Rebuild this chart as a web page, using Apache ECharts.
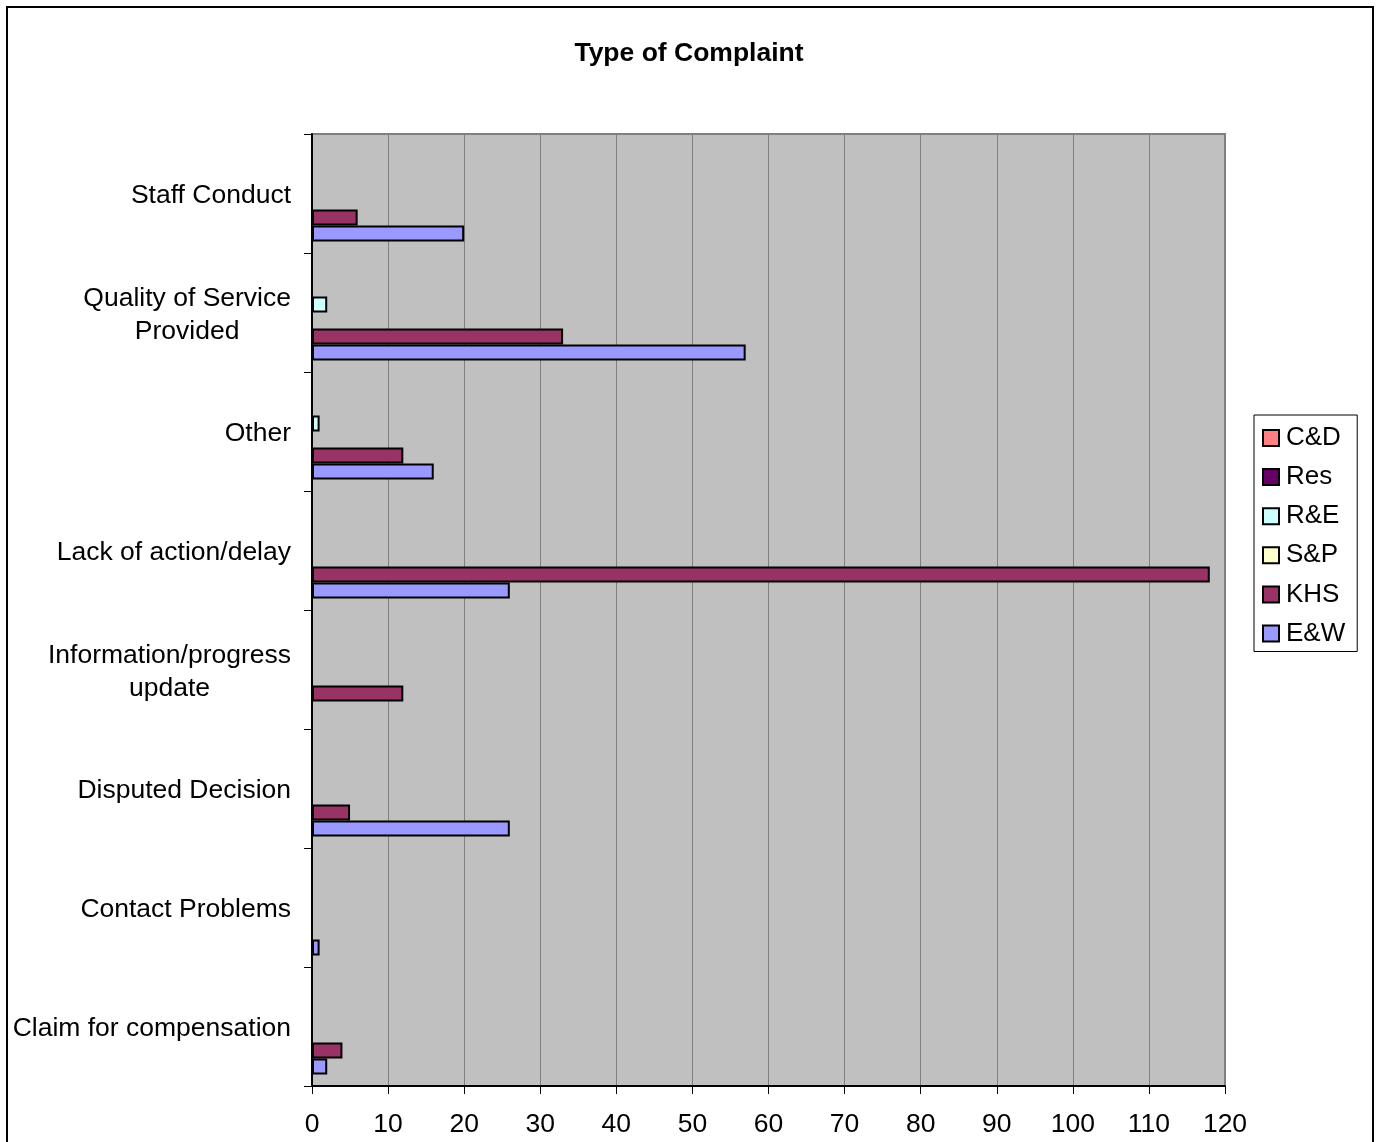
<!DOCTYPE html>
<html>
<head>
<meta charset="utf-8">
<title>Type of Complaint</title>
<script src="https://cdn.jsdelivr.net/npm/echarts@6/dist/echarts.min.js"></script>
<style>
  html, body { margin: 0; padding: 0; background: #fff; }
  #chart { width: 1378px; height: 1142px; }
</style>
</head>
<body>
<div id="chart"></div>
<script>
// Complaint categories, listed top to bottom
const categories = [
  'Staff Conduct',
  'Quality of Service\nProvided',
  'Other',
  'Lack of action/delay',
  'Information/progress\nupdate',
  'Disputed Decision',
  'Contact Problems',
  'Claim for compensation'
];

// Complaint counts per directorate (null = none recorded)
const cdValues  = [null, null, null, null, null, null, null, null];
const resValues = [null, null, null, null, null, null, null, null];
const reValues  = [null, 2, 1, null, null, null, null, null];
const spValues  = [null, null, null, null, null, null, null, null];
const khsValues = [6, 33, 12, 118, 12, 5, null, 4];
const ewValues  = [20, 57, 16, 26, null, 26, 1, 2];

const seriesNames = ['C&D', 'Res', 'R&E', 'S&P', 'KHS', 'E&W'];
const seriesValues = [cdValues, resValues, reValues, spValues, khsValues, ewValues];
const seriesColors = ['#FF8080', '#660066', '#CCFFFF', '#FFFFCC', '#993366', '#9999FF'];

const FONT = 'Arial, "Liberation Sans", sans-serif';
const LABEL_SIZE = 26.5;

const chart = echarts.init(document.getElementById('chart'), null, { renderer: 'canvas' });

const option = {
  backgroundColor: '#ffffff',
  animation: false,
  title: {
    text: 'Type of Complaint',
    left: 'center',
    top: 35,
    textStyle: { fontFamily: FONT, fontSize: 26.5, fontWeight: 'bold', color: '#000' }
  },
  graphic: [{
    type: 'rect',
    shape: { x: 7, y: 7, width: 1366, height: 1160 },
    style: { fill: 'none', stroke: '#000', lineWidth: 2 },
    silent: true,
    z: -1
  }],
  legend: {
    orient: 'vertical',
    left: 1254,
    top: 415,
    padding: [10, 12, 5, 8],
    itemGap: 13.1,
    itemWidth: 16,
    itemHeight: 16,
    icon: 'rect',
    borderColor: '#000',
    borderWidth: 1,
    backgroundColor: '#fff',
    itemStyle: { borderColor: '#000', borderWidth: 2 },
    textStyle: { fontFamily: FONT, fontSize: 26, color: '#000', padding: [0, 0, 0, 2] },
    data: seriesNames
  },
  grid: {
    left: 312,
    right: 153,
    top: 134,
    bottom: 56,
    show: true,
    backgroundColor: '#C0C0C0',
    borderColor: '#808080',
    borderWidth: 2,
    containLabel: false
  },
  xAxis: {
    type: 'value',
    min: 0,
    max: 120,
    interval: 10,
    axisLine: { show: true, lineStyle: { color: '#000', width: 2 } },
    axisTick: { show: true, length: 8, lineStyle: { color: '#000', width: 1 } },
    axisLabel: { margin: 25, fontFamily: FONT, fontSize: LABEL_SIZE, color: '#000' },
    splitLine: { show: true, lineStyle: { color: '#808080', width: 1 } }
  },
  yAxis: {
    type: 'category',
    inverse: true,
    data: categories,
    axisLine: { show: true, lineStyle: { color: '#000', width: 2 } },
    axisTick: { show: true, length: 8, lineStyle: { color: '#000', width: 1 } },
    axisLabel: {
      margin: 21,
      align: 'right',
      padding: [5, 0, 0, 0],
      formatter: function (v) {
        return v.split('\n').map(function (l) { return '{c|' + l + '}'; }).join('\n');
      },
      rich: {
        c: { align: 'center', fontFamily: FONT, fontSize: LABEL_SIZE, color: '#000', lineHeight: 33 }
      }
    },
    splitLine: { show: false }
  },
  series: seriesNames.map(function (name, i) {
    return {
      name: name,
      type: 'bar',
      data: seriesValues[i],
      barGap: '0%',
      barCategoryGap: '19.3%',
      itemStyle: { color: seriesColors[i], borderColor: '#000', borderWidth: 2 }
    };
  })
};

chart.setOption(option);
</script>
</body>
</html>
